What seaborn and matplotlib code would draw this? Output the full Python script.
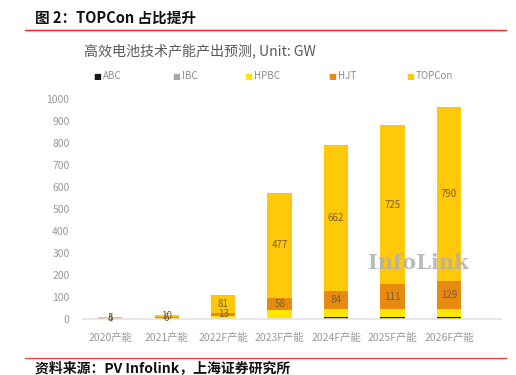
import numpy as np
import pandas as pd
import matplotlib
matplotlib.use("Agg")
import matplotlib.pyplot as plt
import seaborn as sns

# Data (GW)
years = ['2020产能', '2021产能', '2022F产能', '2023F产能', '2024F产能', '2025F产能', '2026F产能']
abc = [0, 0, 0, 2, 7, 8, 8]
ibc = [0, 1, 0, 1, 0, 0, 0]
hpbc = [0, 0, 15, 36, 38, 38, 38]
hjt = [4, 6, 13, 58, 84, 111, 129]
topcon = [5, 10, 81, 477, 662, 725, 790]

series = ['ABC', 'IBC', 'HPBC', 'HJT', 'TOPCon']
colors = {'ABC': '#1a1a1a', 'IBC': '#a8a8a8', 'HPBC': '#ffe600',
          'HJT': '#e88a10', 'TOPCon': '#ffc90a'}

df = pd.DataFrame({'year': years, 'ABC': abc, 'IBC': ibc, 'HPBC': hpbc,
                   'HJT': hjt, 'TOPCon': topcon})
cum = df[series].cumsum(axis=1)

sns.set_style("white")
plt.rcParams['font.family'] = ['Noto Sans CJK SC', 'DejaVu Sans']

fig = plt.figure(figsize=(5.16, 3.75), dpi=100)
ax = fig.add_axes([0.159, 0.1493, 0.814, 0.5867])

# stacked bars: draw cumulative totals from the top series down
for s in reversed(series):
    sns.barplot(x=df['year'], y=cum[s], color=colors[s], width=0.43,
                saturation=1, linewidth=0, edgecolor='none', ax=ax, zorder=2)

# value labels for HJT and TOPCon
for i in range(len(years)):
    base_hjt = cum['HPBC'][i]
    ax.text(i, base_hjt + hjt[i] / 2, str(hjt[i]), ha='center', va='center',
            fontsize=7, color='#7a6030', zorder=3)
    base_top = cum['HJT'][i]
    ax.text(i, base_top + topcon[i] / 2, str(topcon[i]), ha='center', va='center',
            fontsize=7, color='#7a6030', zorder=3)

ax.set_ylim(0, 1000)
ax.set_xlim(-0.5, 6.94)
ax.set_yticks(range(0, 1001, 100))
ax.set_xlabel('')
ax.set_ylabel('')
ax.tick_params(axis='both', length=0, labelsize=7.5, labelcolor='#999999')
ax.tick_params(axis='x', pad=10)
ax.tick_params(axis='y', pad=9)
for sp in ['top', 'right', 'left']:
    ax.spines[sp].set_visible(False)
ax.spines['bottom'].set_color('#e3e3e3')
ax.spines['bottom'].set_linewidth(1.2)

# watermark
ax.text(0.8, 0.256, 'InfoLink', transform=ax.transAxes, ha='center', va='center',
        fontsize=15, fontweight='bold', family='DejaVu Serif', color='#b0b0b0',
        alpha=0.85, zorder=4)

# legend
legend_x = [0.180, 0.333, 0.474, 0.636, 0.787]
for s, lx in zip(series, legend_x):
    fig.text(lx, 0.797, '■', color=colors[s], fontsize=6, va='center', ha='left',
             family='DejaVu Sans')
    fig.text(lx + 0.019, 0.797, s, color='#8c8c8c', fontsize=7, va='center', ha='left')

# chart title
fig.text(0.163, 0.864, '高效电池技术产能产出预测, Unit: GW', fontsize=10.1,
         color='#595959', va='center', ha='left')

# report header and footer
fig.text(0.068, 0.952, '图 2：TOPCon 占比提升', fontsize=10.5, fontweight='bold',
         color='#111111', va='center', ha='left')
fig.add_artist(plt.Line2D([0.048, 0.98], [0.921, 0.921], color='#ff2020', lw=1))
fig.add_artist(plt.Line2D([0.048, 0.98], [0.046, 0.046], color='#ff4040', lw=1))
fig.text(0.068, 0.018, '资料来源：PV Infolink，上海证券研究所', fontsize=10,
         fontweight='bold', color='#111111', va='center', ha='left')

fig.savefig('out.png', dpi=100)
